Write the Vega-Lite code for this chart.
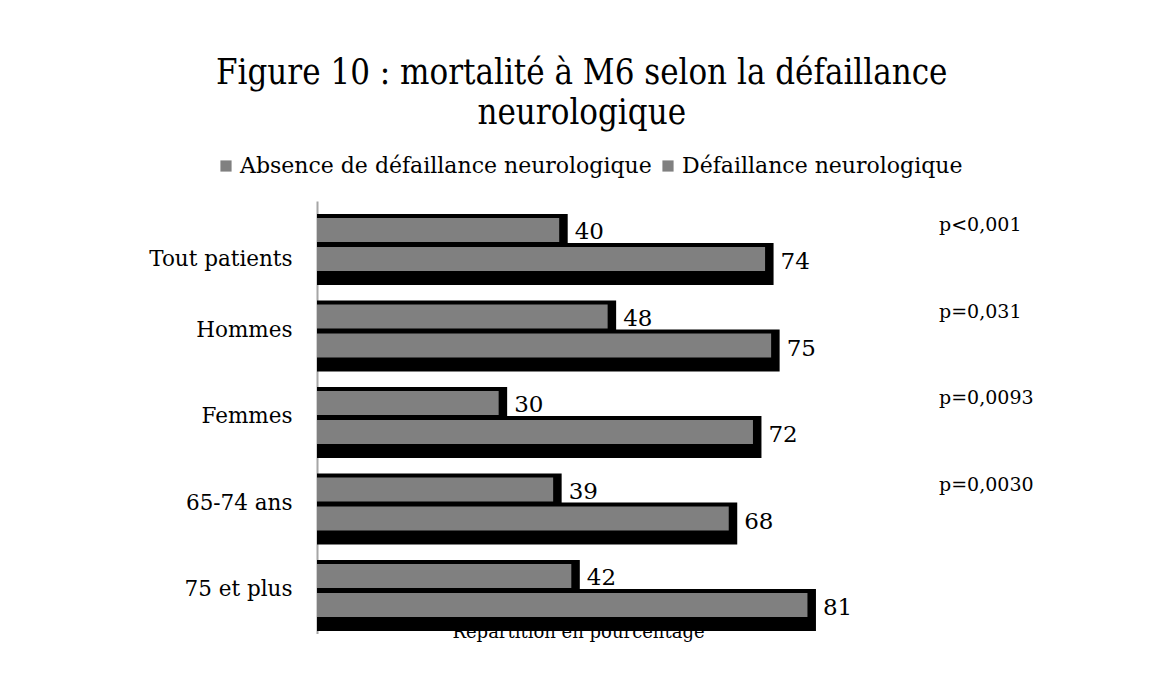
{
  "$schema": "https://vega.github.io/schema/vega-lite/v6.json",
  "width": 605.5,
  "height": 432.5,
  "autosize": {"type": "none"},
  "padding": {"left": 317, "top": 201, "right": 227.5, "bottom": 44.5},
  "background": "white",
  "config": {"view": {"stroke": null}, "font": "DejaVu Serif"},
  "title": {
    "text": ["Figure 10 : mortalité à M6 selon la défaillance", "neurologique"],
    "font": "DejaVu Serif Condensed, DejaVu Serif",
    "fontSize": 34.5,
    "fontWeight": "normal",
    "color": "black",
    "anchor": "middle",
    "frame": "group",
    "dx": -38,
    "offset": 24,
    "lineHeight": 40
  },
  "datasets": {
    "mort": [
      {"groupe": "Tout patients", "serie": "Absence de défaillance neurologique", "valeur": 40},
      {"groupe": "Tout patients", "serie": "Défaillance neurologique", "valeur": 74},
      {"groupe": "Hommes", "serie": "Absence de défaillance neurologique", "valeur": 48},
      {"groupe": "Hommes", "serie": "Défaillance neurologique", "valeur": 75},
      {"groupe": "Femmes", "serie": "Absence de défaillance neurologique", "valeur": 30},
      {"groupe": "Femmes", "serie": "Défaillance neurologique", "valeur": 72},
      {"groupe": "65-74 ans", "serie": "Absence de défaillance neurologique", "valeur": 39},
      {"groupe": "65-74 ans", "serie": "Défaillance neurologique", "valeur": 68},
      {"groupe": "75 et plus", "serie": "Absence de défaillance neurologique", "valeur": 42},
      {"groupe": "75 et plus", "serie": "Défaillance neurologique", "valeur": 81}
    ],
    "pvals": [
      {"groupe": "Tout patients", "p": "p<0,001"},
      {"groupe": "Hommes", "p": "p=0,031"},
      {"groupe": "Femmes", "p": "p=0,0093"},
      {"groupe": "65-74 ans", "p": "p=0,0030"}
    ]
  },
  "encoding": {
    "y": {
      "field": "groupe",
      "type": "nominal",
      "sort": ["Tout patients", "Hommes", "Femmes", "65-74 ans", "75 et plus"],
      "scale": {"paddingInner": 0, "paddingOuter": 0},
      "axis": {
        "title": null,
        "ticks": false,
        "domain": true,
        "domainColor": "#a6a6a6",
        "domainWidth": 2,
        "labelFont": "DejaVu Serif",
        "labelFontSize": 21.5,
        "labelColor": "black",
        "labelPadding": 25,
        "labelOffset": {"condition": {"test": "datum.value === 'Tout patients'", "value": 16}, "value": 0}
      }
    }
  },
  "layer": [
    {
      "data": {"name": "mort"},
      "transform": [{"filter": "datum.serie === 'Absence de défaillance neurologique'"}],
      "mark": {"type": "bar", "color": "black", "height": 42, "yOffset": -9.25, "xOffset": 8.5},
      "encoding": {
        "x": {
          "field": "valeur",
          "type": "quantitative",
          "stack": null,
          "scale": {"domain": [0, 100]},
          "axis": {
            "title": "Répartition en pourcentage",
            "labels": false,
            "ticks": false,
            "domain": false,
            "grid": false,
            "titleFont": "DejaVu Serif",
            "titleFontSize": 18,
            "titleFontWeight": "normal",
            "titleColor": "black",
            "titleBaseline": "alphabetic",
            "titlePadding": 4,
            "titleX": 261
          }
        }
      }
    },
    {
      "data": {"name": "mort"},
      "transform": [{"filter": "datum.serie === 'Défaillance neurologique'"}],
      "mark": {"type": "bar", "color": "black", "height": 42, "yOffset": 19.75, "xOffset": 8.5},
      "encoding": {
        "x": {"field": "valeur", "type": "quantitative", "stack": null}
      }
    },
    {
      "data": {"name": "mort"},
      "transform": [{"filter": "datum.serie === 'Absence de défaillance neurologique'"}],
      "mark": {"type": "bar", "height": 24, "yOffset": -14.25},
      "encoding": {
        "x": {"field": "valeur", "type": "quantitative", "stack": null},
        "color": {
          "field": "serie",
          "type": "nominal",
          "scale": {"domain": ["Absence de défaillance neurologique", "Défaillance neurologique"], "range": ["#808080", "#808080"]},
          "legend": {
            "title": null,
            "orient": "none",
            "direction": "horizontal",
            "legendX": -102,
            "legendY": -46,
            "symbolType": "square",
            "symbolSize": 125,
            "symbolStrokeWidth": 0,
            "symbolOpacity": 1,
            "labelFont": "DejaVu Serif",
            "labelFontSize": 22,
            "labelColor": "black",
            "labelLimit": 0,
            "labelOffset": 3,
            "columnPadding": 5
          }
        }
      }
    },
    {
      "data": {"name": "mort"},
      "transform": [{"filter": "datum.serie === 'Défaillance neurologique'"}],
      "mark": {"type": "bar", "height": 24, "yOffset": 14.75},
      "encoding": {
        "x": {"field": "valeur", "type": "quantitative", "stack": null},
        "color": {"field": "serie", "type": "nominal"}
      }
    },
    {
      "data": {"name": "mort"},
      "transform": [{"filter": "datum.serie === 'Absence de défaillance neurologique'"}],
      "mark": {"type": "text", "align": "left", "baseline": "middle", "dx": 15.5, "yOffset": -12, "fontSize": 23, "font": "DejaVu Serif", "color": "black"},
      "encoding": {
        "x": {"field": "valeur", "type": "quantitative", "stack": null},
        "text": {"field": "valeur", "type": "quantitative"}
      }
    },
    {
      "data": {"name": "mort"},
      "transform": [{"filter": "datum.serie === 'Défaillance neurologique'"}],
      "mark": {"type": "text", "align": "left", "baseline": "middle", "dx": 15.5, "yOffset": 18, "fontSize": 23, "font": "DejaVu Serif", "color": "black"},
      "encoding": {
        "x": {"field": "valeur", "type": "quantitative", "stack": null},
        "text": {"field": "valeur", "type": "quantitative"}
      }
    },
    {
      "data": {"name": "pvals"},
      "mark": {"type": "text", "align": "left", "baseline": "middle", "dx": 16.5, "yOffset": -19, "fontSize": 19, "font": "DejaVu Serif", "color": "black"},
      "encoding": {
        "x": {"datum": 100, "type": "quantitative"},
        "text": {"field": "p", "type": "nominal"}
      }
    }
  ]
}
